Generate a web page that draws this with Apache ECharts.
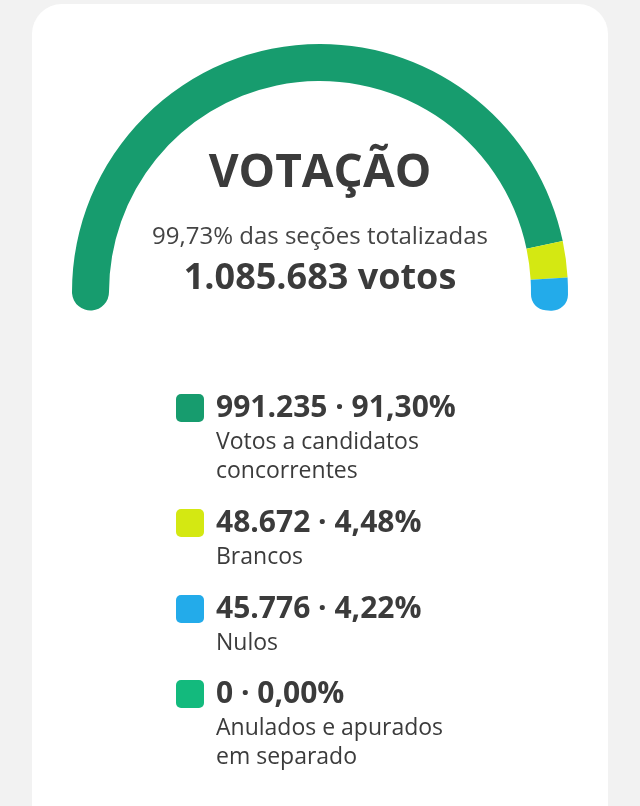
<!DOCTYPE html>
<html>
<head>
<meta charset="utf-8">
<script src="https://cdn.jsdelivr.net/npm/echarts@6/dist/echarts.min.js"></script>
<style>
html,body{margin:0;padding:0;background:#f2f2f2;}
#chart{width:640px;height:806px;}
</style>
</head>
<body>
<div id="chart"></div>
<script>
// ---- data ----
const categories = ['Votos a candidatos concorrentes', 'Brancos', 'Nulos', 'Anulados e apurados em separado'];
const descLines = [['Votos a candidatos', 'concorrentes'], ['Brancos'], ['Nulos'], ['Anulados e apurados', 'em separado']];
const values = [991235, 48672, 45776, 0];
const colors = ['#179c6e', '#d4e812', '#23abea', '#13ba7d'];
const titleText = 'VOTAÇÃO';
const sectionsText = '99,73% das seções totalizadas';

// ---- helpers ----
const total = values.reduce((a, b) => a + b, 0);
function fmtInt(v) { return String(v).replace(/\B(?=(\d{3})+(?!\d))/g, '.'); }
function fmtPct(v) { return (v / total * 100).toFixed(2).replace('.', ',') + '%'; }

const capR = 18.5;
let lastIdx = 0;
values.forEach((v, i) => { if (v > 0) lastIdx = i; });

const rich = {
  g: { width: 12, height: 1 },
  sp: { width: 40, height: 1, lineHeight: 29 },
  a: { fontFamily: 'Open Sans', fontWeight: 'bold', fontSize: 30, lineHeight: 40, color: '#3b3b3b' },
  b: { fontFamily: 'Open Sans', fontSize: 23, lineHeight: 29, color: '#3b3b3b' }
};
colors.forEach((c, i) => {
  rich['sq' + i] = { width: 28, height: 28, lineHeight: 40, backgroundColor: c, borderRadius: 5 };
});

// legend rows: one legend block per category, stacked
const legendTops = [393, 508, 594, 679];
const legends = categories.map((name, i) => ({
  orient: 'vertical',
  left: 171,
  top: legendTops[i],
  padding: 0,
  itemWidth: 0,
  itemHeight: 0,
  textGap: 0,
  icon: 'rect',
  itemStyle: { opacity: 0 },
  selectedMode: false,
  data: [name],
  formatter: function (n) {
    const k = categories.indexOf(n);
    let s = '{sq' + k + '|}{g|}{a|' + fmtInt(values[k]) + ' · ' + fmtPct(values[k]) + '}';
    descLines[k].forEach(l => { s += '\n{sp|}{b|' + l + '}'; });
    return s;
  },
  textStyle: { rich: rich }
}));

const chart = echarts.init(document.getElementById('chart'), null, { renderer: 'canvas' });
chart.setOption({
  backgroundColor: '#f2f2f2',
  animation: false,
  graphic: [
    { type: 'rect', z: -5, shape: { x: 32, y: 4, width: 576, height: 880, r: 30 }, style: { fill: '#ffffff' } },
    { type: 'text', x: 320, y: 174, style: { text: titleText, fontFamily: 'Open Sans', fontWeight: 'bold', fontSize: 46, fill: '#3b3b3b', align: 'center', verticalAlign: 'middle' } },
    { type: 'text', x: 320, y: 237, style: { text: sectionsText, fontFamily: 'Open Sans', fontSize: 24, fill: '#444444', align: 'center', verticalAlign: 'middle' } },
    { type: 'text', x: 320, y: 279, style: { text: fmtInt(total) + ' votos', fontFamily: 'Open Sans', fontWeight: 'bold', fontSize: 36, fill: '#3b3b3b', align: 'center', verticalAlign: 'middle' } }
  ],
  legend: legends,
  series: [{
    type: 'pie',
    center: [320, 292],
    radius: [211, 248],
    startAngle: 184.62,
    endAngle: -4.62,
    clockwise: true,
    silent: true,
    label: { show: false },
    labelLine: { show: false },
    emphasis: { disabled: true },
    data: categories.map((n, i) => ({
      name: n,
      value: values[i],
      itemStyle: {
        color: colors[i],
        borderWidth: 0,
        borderRadius: i === 0 ? [capR, 0, capR, 0] : (i === lastIdx ? [0, capR, 0, capR] : 0)
      }
    }))
  }]
});
</script>
</body>
</html>
